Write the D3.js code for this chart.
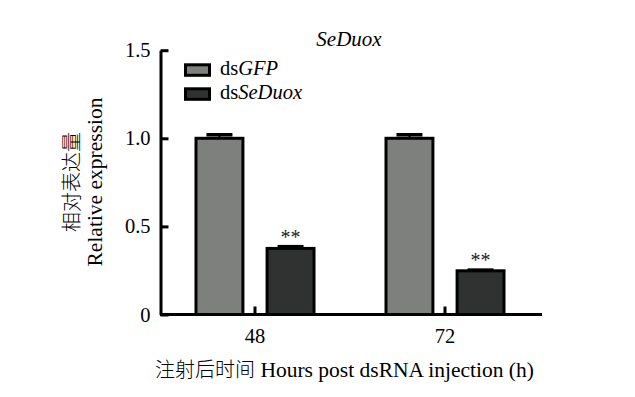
<!DOCTYPE html>
<html>
<head>
<meta charset="utf-8">
<script src="https://cdn.jsdelivr.net/npm/d3@7"></script>
<style>
  body { margin: 0; background: #fff; }
  text { font-family: "Liberation Serif", "Times New Roman", "Noto Sans CJK SC", serif; fill: #000; }
  .cjk { font-family: "Noto Sans CJK SC", sans-serif; font-weight: 300; }
</style>
</head>
<body>
<script>
// data
var hours = ["48", "72"];
var groups = ["GFP", "SeDuox"];
var gfpValues = [1.0, 1.0];
var gfpErrors = [0.02, 0.02];
var seduoxValues = [0.375, 0.248];
var seduoxErrors = [0.01, 0.004];
var seduoxStars = ["**", "**"];
var yTicks = [0, 0.5, 1.0, 1.5];

var width = 635,
    height = 397;

var colors = { GFP: "#7e807e", SeDuox: "#2f3230" };

var svg = d3.select("body").append("svg")
    .attr("width", width)
    .attr("height", height);

var rows = hours.map(function(h, i){
    return {
        hour: h,
        bars: [
            { key: "GFP", value: gfpValues[i], err: gfpErrors[i], star: "" },
            { key: "SeDuox", value: seduoxValues[i], err: seduoxErrors[i], star: seduoxStars[i] }
        ]
    };
});

var x0 = d3.scaleBand()
    .domain(hours)
    .range([160, 540])
    .padding(0);

var x1 = d3.scaleBand()
    .domain(groups)
    .range([-59, 59])
    .paddingInner(0.34);

var y = d3.scaleLinear()
    .domain([0, 1.5])
    .range([314.5, 50.2]);

// bars
var grp = svg.selectAll("g.hour")
    .data(rows)
    .enter()
    .append("g")
    .attr("class", "hour")
    .attr("transform", function(d){ return "translate(" + (x0(d.hour) + x0.bandwidth() / 2) + ",0)"; });

grp.selectAll("rect")
    .data(function(d){ return d.bars; })
    .enter()
    .append("rect")
    .attr("x", function(d){ return x1(d.key); })
    .attr("y", function(d){ return y(d.value); })
    .attr("width", x1.bandwidth())
    .attr("height", function(d){ return y(0) - y(d.value); })
    .attr("fill", function(d){ return colors[d.key]; })
    .attr("stroke", "#000")
    .attr("stroke-width", 3);

// error bars (only the upper half shows)
grp.selectAll("line.err")
    .data(function(d){ return d.bars; })
    .enter()
    .append("line")
    .attr("class", "err")
    .attr("x1", function(d){ return x1(d.key) + x1.bandwidth() / 2; })
    .attr("x2", function(d){ return x1(d.key) + x1.bandwidth() / 2; })
    .attr("y1", function(d){ return y(d.value); })
    .attr("y2", function(d){ return y(d.value + d.err); })
    .attr("stroke", "#000")
    .attr("stroke-width", 2);

grp.selectAll("line.cap")
    .data(function(d){ return d.bars; })
    .enter()
    .append("line")
    .attr("class", "cap")
    .attr("x1", function(d){ return x1(d.key) + x1.bandwidth() / 2 - 13; })
    .attr("x2", function(d){ return x1(d.key) + x1.bandwidth() / 2 + 13; })
    .attr("y1", function(d){ return y(d.value + d.err); })
    .attr("y2", function(d){ return y(d.value + d.err); })
    .attr("stroke", "#000")
    .attr("stroke-width", 3.5);

grp.selectAll("text.star")
    .data(function(d){ return d.bars.filter(function(b){ return b.star; }); })
    .enter()
    .append("text")
    .attr("class", "star")
    .attr("x", function(d){ return x1(d.key) + x1.bandwidth() / 2; })
    .attr("y", function(d){ return y(d.value + d.err) - 3; })
    .attr("text-anchor", "middle")
    .style("font-size", "20px")
    .style("fill", "#222")
    .text(function(d){ return d.star; });

// axes
var xAxis = d3.axisBottom(x0)
    .tickSizeInner(-8)
    .tickSizeOuter(0)
    .tickPadding(14);

var yAxis = d3.axisLeft(y)
    .tickValues(yTicks)
    .tickFormat(function(d){ return d === 0 ? "0" : d3.format(".1f")(d); })
    .tickSizeInner(-8)
    .tickSizeOuter(0)
    .tickPadding(10);

var gx = svg.append("g")
    .attr("transform", "translate(0," + y(0) + ")")
    .call(xAxis);

gx.select(".domain").attr("d", "M160,0H542");

var gy = svg.append("g")
    .attr("transform", "translate(160.5,0)")
    .call(yAxis);

[gx, gy].forEach(function(g){
    g.select(".domain").attr("stroke", "#000").attr("stroke-width", 3);
    g.selectAll(".tick line").attr("stroke", "#000").attr("stroke-width", 3);
    g.selectAll(".tick text")
        .style("font-size", "20.5px")
        .style("font-family", "'Liberation Serif', serif")
        .attr("fill", "#000");
});

// title
svg.append("text")
    .attr("x", 349)
    .attr("y", 46)
    .attr("text-anchor", "middle")
    .style("font-size", "21px")
    .style("font-style", "italic")
    .text("SeDuox");

// legend
var legend = svg.selectAll("g.legend")
    .data(groups)
    .enter()
    .append("g")
    .attr("class", "legend")
    .attr("transform", function(d, i){ return "translate(185.5," + (64.8 + i * 24) + ")"; });

legend.append("rect")
    .attr("width", 24)
    .attr("height", 10.5)
    .attr("fill", function(d){ return colors[d]; })
    .attr("stroke", "#000")
    .attr("stroke-width", 3);

var lt = legend.append("text")
    .attr("x", 34.5)
    .attr("y", 10.3)
    .style("font-size", "20.5px");
lt.append("tspan").text("ds");
lt.append("tspan").style("font-style", "italic").text(function(d){ return d; });

// axis titles
var xl = svg.append("text")
    .attr("x", 155)
    .attr("y", 377)
    .style("font-size", "21.5px");
xl.append("tspan").attr("class", "cjk").style("font-size", "20px").text("注射后时间");
xl.append("tspan").text(" Hours post dsRNA injection (h)");

var yl = svg.append("text")
    .attr("transform", "translate(0,182) rotate(-90)")
    .attr("text-anchor", "middle")
    .style("font-size", "21.5px");
yl.append("tspan").attr("class", "cjk").style("font-size", "20px").attr("x", 0).attr("y", 79).text("相对表达量");
yl.append("tspan").attr("x", 0).attr("y", 102).text("Relative expression");
</script>
</body>
</html>
